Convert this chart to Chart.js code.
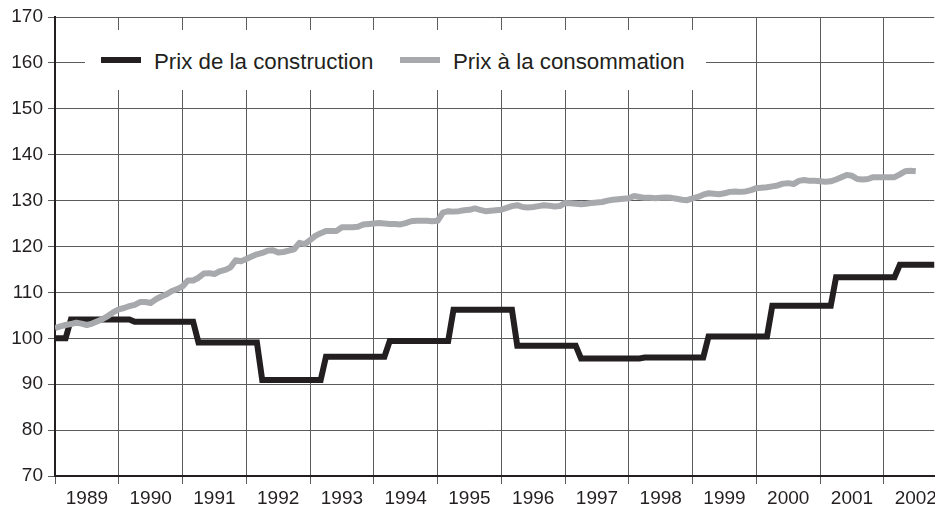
<!DOCTYPE html>
<html>
<head>
<meta charset="utf-8">
<script src="https://cdn.jsdelivr.net/npm/chart.js@4.4.1/dist/chart.umd.min.js"></script>
<style>
  html, body { margin: 0; padding: 0; background: #fff; overflow: hidden; width: 935px; height: 507px; }
  #wrap { position: relative; width: 940px; height: 507px; }
  #legend { position: absolute; left: 85px; top: 30px; width: 621px; height: 60px; background: #fff;
            font-family: 'Liberation Sans', Arial, sans-serif; font-size: 22.3px; color: #231f20; }
  .item { position: absolute; top: 0; height: 60px; }
  .sw { position: absolute; left: 0; top: 27px; height: 6px; width: 40px; }
  .lbl { position: absolute; left: 53px; top: 21px; line-height: 22px; white-space: nowrap; }
</style>
</head>
<body>
<div id="wrap"><canvas id="c"></canvas><div id="legend"></div></div>
<script>
// ---- data ----
const yearLabels = ['1989','1990','1991','1992','1993','1994','1995','1996','1997','1998','1999','2000','2001','2002'];
const yTicks = [70, 80, 90, 100, 110, 120, 130, 140, 150, 160, 170];
const seriesNames = ['Prix de la construction', 'Prix à la consommation'];

// Construction price: 100 at Jan 1989, then a new level each April
const constructionStart = 100;
const constructionValues = [104.1, 103.6, 99.1, 90.9, 96.0, 99.4, 106.2, 98.4, 95.6, 95.8, 100.4, 107.1, 113.3, 116.0];

// Consumer price: monthly, Jan 1989 - Jul 2002
const consumerValues = [
  102.2, 102.6, 102.9, 103.1, 103.4, 103.2, 102.9, 103.2, 103.7, 104.2, 104.9, 105.7,
  106.3, 106.6, 107.0, 107.3, 107.9, 107.9, 107.7, 108.5, 109.1, 109.6, 110.3, 110.7,
  111.3, 112.6, 112.6, 113.2, 114.1, 114.2, 114.0, 114.6, 114.9, 115.4, 117.0, 116.8,
  117.3, 117.8, 118.3, 118.6, 119.1, 119.2, 118.7, 118.8, 119.1, 119.4, 120.8, 120.5,
  121.4, 122.3, 122.9, 123.4, 123.4, 123.4, 124.2, 124.2, 124.2, 124.3, 124.8, 124.9,
  125.0, 125.1, 125.0, 124.9, 124.9, 124.8, 125.1, 125.5, 125.6, 125.6, 125.6, 125.5,
  125.6, 127.4, 127.7, 127.6, 127.7, 127.9, 128.0, 128.3, 128.0, 127.7, 127.8, 127.9,
  128.0, 128.4, 128.8, 129.0, 128.6, 128.5, 128.6, 128.8, 129.0, 128.9, 128.7, 128.8,
  129.5, 129.4, 129.3, 129.2, 129.3, 129.5, 129.6, 129.7, 130.0, 130.2, 130.3, 130.4,
  130.5, 131.0, 130.8, 130.6, 130.6, 130.5, 130.6, 130.7, 130.6, 130.4, 130.2, 130.1,
  130.5, 130.8, 131.3, 131.6, 131.5, 131.4, 131.6, 131.9, 132.0, 131.9, 132.0, 132.3,
  132.7, 132.8, 132.9, 133.1, 133.3, 133.7, 133.8, 133.6, 134.3, 134.5, 134.3, 134.3,
  134.2, 134.1, 134.2, 134.6, 135.1, 135.6, 135.4, 134.7, 134.6, 134.7, 135.1, 135.1,
  135.1, 135.1, 135.1, 135.7, 136.4, 136.5, 136.4
];

// ---- build tables for the library ----
const firstYear = Number(yearLabels[0]);
const constructionPoints = [{ x: firstYear, y: constructionStart }];
let prev = constructionStart;
constructionValues.forEach((v, i) => {
  const yr = firstYear + i;
  constructionPoints.push({ x: yr + 2 / 12, y: prev });
  constructionPoints.push({ x: yr + 3 / 12, y: v });
  prev = v;
});
constructionPoints.push({ x: firstYear + constructionValues.length, y: prev });

const consumerPoints = consumerValues.map((v, i) => ({ x: firstYear + i / 12, y: v }));

const INK = '#231f20';
const GRAY = '#a7a9ac';
const GRID = '#5a5b5d';

Chart.defaults.font.family = "'Liberation Sans', Arial, sans-serif";
Chart.defaults.color = INK;

const chart = new Chart(document.getElementById('c'), {
  type: 'line',
  data: {
    datasets: [
      { label: seriesNames[0], data: constructionPoints, borderColor: INK, backgroundColor: INK,
        borderWidth: 6, pointRadius: 0, tension: 0, borderJoinStyle: 'miter', order: 1 },
      { label: seriesNames[1], data: consumerPoints, borderColor: GRAY, backgroundColor: GRAY,
        borderWidth: 6, pointRadius: 0, tension: 0, borderJoinStyle: 'round', order: 0 }
    ]
  },
  options: {
    responsive: true,
    maintainAspectRatio: false,
    devicePixelRatio: 1,
    animation: false,
    events: [],
    layout: { padding: { left: 0, top: 17, right: 5, bottom: 0 } },
    plugins: { legend: { display: false }, tooltip: { enabled: false } },
    scales: {
      x: {
        type: 'linear',
        min: firstYear,
        max: 2002.79,
        afterBuildTicks: (s) => { s.ticks = yearLabels.map((l, i) => ({ value: firstYear + i + 0.5 })); },
        afterFit: (s) => { s.height = 31; },
        ticks: { autoSkip: false, maxRotation: 0, minRotation: 0, padding: 3,
                 font: { size: 19 }, color: INK,
                 callback: (v, i) => yearLabels[i] },
        grid: { offset: true, color: GRID, lineWidth: 1, tickLength: 8, drawTicks: true },
        border: { display: true, color: INK, width: 2 }
      },
      y: {
        min: 70,
        max: 170,
        afterBuildTicks: (s) => { s.ticks = yTicks.map(v => ({ value: v })); },
        afterFit: (s) => { s.width = 55; },
        ticks: { padding: 5, font: { size: 19 }, color: INK, callback: (v) => String(v) },
        grid: { color: GRID, lineWidth: 1, tickLength: 7, drawTicks: true },
        border: { display: true, color: INK, width: 2 }
      }
    }
  }
});

// HTML legend built from the chart's datasets
const legendLefts = [16, 315];
const legendEl = document.getElementById('legend');
chart.data.datasets.forEach((ds, i) => {
  const item = document.createElement('div');
  item.className = 'item';
  item.style.left = legendLefts[i] + 'px';
  const sw = document.createElement('div');
  sw.className = 'sw';
  sw.style.background = ds.borderColor;
  const lbl = document.createElement('span');
  lbl.className = 'lbl';
  lbl.textContent = ds.label;
  item.appendChild(sw);
  item.appendChild(lbl);
  legendEl.appendChild(item);
});
</script>
</body>
</html>
